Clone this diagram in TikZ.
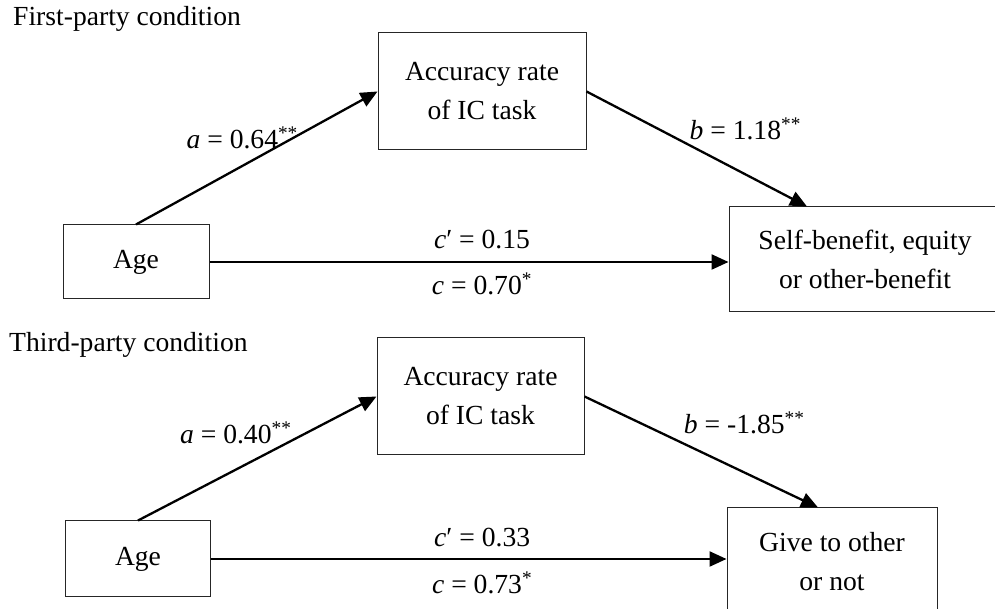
\documentclass[tikz,border=0pt]{standalone}
\usepackage{fontspec}
\setmainfont{Liberation Serif}
\usepackage{tikz}
\usetikzlibrary{%
  positioning
 ,arrows.meta
}
\tikzstyle{med}=[on grid,font=\fontsize{27.6}{39}\selectfont]
\tikzstyle{var}=[rectangle,draw=black!85,line width=1pt,align=center,inner sep=0pt]
\tikzstyle{conn}=[line width=2.3pt,-{Triangle[length=17pt,width=15pt]}]
\tikzstyle{lbl}=[inner sep=0pt]
\tikzstyle{cond}=[anchor=west,inner sep=0pt]

\begin{document}
\begin{tikzpicture}[med]
  \useasboundingbox (0,0) rectangle (995pt,609pt);
  % first-party condition
  \node[cond]                                      (t_1)   at (13pt,590pt)  {First-party condition};
  \node[var,minimum width=146pt,minimum height=74pt]  (age_1) at (136pt,347pt) {Age};
  \node[var,minimum width=208pt,minimum height=117pt] (ic_1)  [above right=170.5pt and 346pt of age_1] {Accuracy rate\\of IC task};
  \node[var,minimum width=272pt,minimum height=105pt] (out_1) [above right=2.5pt and 729pt of age_1]  {Self-benefit, equity\\or other-benefit};
% 
  \path[conn]
  (age_1.north) edge node[lbl,pos=.44,yshift=28.5pt]  {\textit{a} = 0.64\textsuperscript{**}} (ic_1.west)
  (ic_1.east)   edge node[lbl,pos=.72,yshift=45.5pt]  {\textit{b} = 1.18\textsuperscript{**}} ([xshift=-58pt]out_1.north)
  (age_1.east)  edge node[lbl,pos=.525,yshift=22pt]   {\textit{c}′ = 0.15}
                     node[lbl,pos=.525,yshift=-22pt]  {\textit{c} = 0.70\textsuperscript{*}} (age_1.east -| out_1.west);
  % third-party condition
  \node[cond]                                      (t_2)   at (9pt,264pt)   {Third-party condition};
  \node[var,minimum width=145pt,minimum height=76pt]  (age_2) at (138pt,50pt)  {Age};
  \node[var,minimum width=207pt,minimum height=117pt] (ic_2)  [above right=162.5pt and 342.5pt of age_2] {Accuracy rate\\of IC task};
  \node[var,minimum width=210pt,minimum height=108pt] (out_2) [below right=3pt and 694pt of age_2]     {Give to other\\or not};
% 
  \path[conn]
  (age_2.north) edge node[lbl,pos=.41,yshift=37pt]    {\textit{a} = 0.40\textsuperscript{**}} (ic_2.west)
  (ic_2.east)   edge node[lbl,pos=.684,yshift=50pt]   {\textit{b} = -1.85\textsuperscript{**}} ([xshift=-14pt]out_2.north)
  (age_2.east)  edge node[lbl,pos=.526,yshift=21pt]   {\textit{c}′ = 0.33}
                     node[lbl,pos=.526,yshift=-24pt]  {\textit{c} = 0.73\textsuperscript{*}} (age_2.east -| out_2.west);
\end{tikzpicture}
\end{document}
